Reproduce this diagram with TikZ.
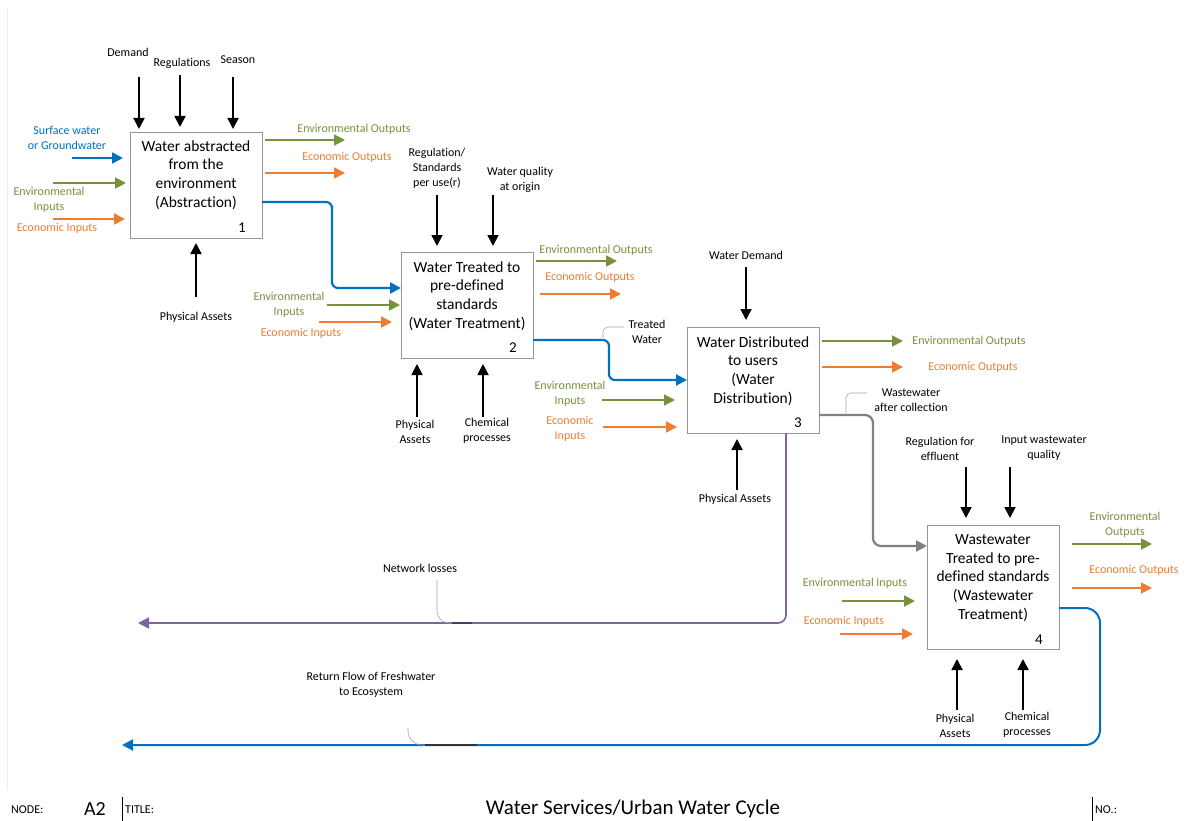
\documentclass[tikz,border=0pt]{standalone}
\usepackage{fontspec}
\setmainfont{Carlito}[Ligatures=NoCommon]
\usetikzlibrary{arrows.meta}
\definecolor{wblue}{RGB}{0,112,192}
\definecolor{wgreen}{RGB}{118,146,60}
\definecolor{worange}{RGB}{237,125,49}
\definecolor{wpurple}{RGB}{128,100,162}
\definecolor{wgray}{RGB}{128,128,128}
\definecolor{bxgray}{RGB}{150,150,150}
\begin{document}
\begin{tikzpicture}[x=1pt,y=-1pt,
 proc/.style={draw=bxgray, line width=1pt, fill=white, inner sep=0pt, anchor=north west, minimum width=132pt},
 ptext/.style={font=\fontsize{15.5}{18.7}\selectfont, align=center, inner sep=0pt},
 pnum/.style={font=\fontsize{15}{18}\selectfont, inner sep=0pt},
 lbl/.style={font=\fontsize{12}{15}\selectfont, align=center, inner sep=0pt},
 glbl/.style={lbl, text=wgreen},
 olbl/.style={lbl, text=worange},
 blbl/.style={lbl, text=wblue},
 arr/.style={-{Triangle[length=11pt,width=11pt]}, line width=1.8pt},
 ctrl/.style={arr, draw=black},
 garr/.style={arr, draw=wgreen},
 oarr/.style={arr, draw=worange},
 barr/.style={arr, draw=wblue},
 flow/.style={-{Triangle[length=11pt,width=11pt]}, line width=2.2pt, rounded corners=6pt},
 callout/.style={draw=gray!70, line width=0.6pt, rounded corners=5pt},
]
\useasboundingbox (0,0) rectangle (1201,821);
\fill[white] (0,0) rectangle (1201,821);
\draw[gray!15, line width=0.8pt] (7,8) -- (7,790);

% ---------- Box 1 ----------
\node[proc, minimum height=106pt] (b1) at (130,132) {};
\node[ptext] (b1t) at (196,175) {Water abstracted\\from the\\environment\\(Abstraction)};
\node[pnum] (b1n) at (242,228) {1};
\node[lbl] (l1a) at (128,52) {Demand};
\node[lbl] (l1b) at (182,63) {Regulations};
\node[lbl] (l1c) at (238,60) {Season};
\draw[ctrl] (139,77) coordinate (c1a) -- (139,129) coordinate (c1ae);
\draw[ctrl] (180,75) coordinate (c1b) -- (180,127) coordinate (c1be);
\draw[ctrl] (233,77) coordinate (c1c) -- (233,129) coordinate (c1ce);
\node[blbl] (l1d) at (67,138) {Surface water\\or Groundwater};
\draw[barr] (72,158) coordinate (i1a) -- (123,158) coordinate (i1ae);
\draw[garr] (53,183) coordinate (i1b) -- (126,183) coordinate (i1be);
\node[glbl] (l1e) at (49,199.5) {Environmental\\Inputs};
\draw[oarr] (53,219) coordinate (i1c) -- (125,219) coordinate (i1ce);
\node[olbl] (l1f) at (57,228) {Economic Inputs};
\node[glbl] (l1g) at (354,129) {Environmental Outputs};
\draw[garr] (265,140) coordinate (o1a) -- (345,140) coordinate (o1ae);
\node[olbl] (l1h) at (347,157) {Economic Outputs};
\draw[oarr] (265,173) coordinate (o1b) -- (345,173) coordinate (o1be);
\draw[ctrl] (196,297) coordinate (m1a) -- (196,243) coordinate (m1ae);
\node[lbl] (l1i) at (196,317) {Physical Assets};

% ---------- Box 2 ----------
\node[proc, minimum height=106pt] (b2) at (401,252) {};
\node[ptext] (b2t) at (467,296) {Water Treated to\\pre-defined\\standards\\(Water Treatment)};
\node[pnum] (b2n) at (513,348) {2};
\node[lbl] (l2a) at (437,168.5) {Regulation/\\Standards\\per use(r)};
\node[lbl] (l2b) at (520,179.5) {Water quality\\at origin};
\draw[ctrl] (437,195) coordinate (c2a) -- (437,246) coordinate (c2ae);
\draw[ctrl] (493,195) coordinate (c2b) -- (493,246) coordinate (c2be);
\node[glbl] (l2c) at (289,304.5) {Environmental\\Inputs};
\draw[garr] (327,305) coordinate (i2a) -- (400,305) coordinate (i2ae);
\node[olbl] (l2d) at (301,333) {Economic Inputs};
\draw[oarr] (319,322) coordinate (i2b) -- (392,322) coordinate (i2be);
\node[glbl] (l2e) at (596,250) {Environmental Outputs};
\draw[garr] (536,261) coordinate (o2a) -- (617,261) coordinate (o2ae);
\node[olbl] (l2f) at (590,277) {Economic Outputs};
\draw[oarr] (540,294) coordinate (o2b) -- (621,294) coordinate (o2be);
\draw[ctrl] (417,417) coordinate (m2a) -- (417,364) coordinate (m2ae);
\draw[ctrl] (483,417) coordinate (m2b) -- (483,364) coordinate (m2be);
\node[lbl] (l2g) at (415,431.5) {Physical\\Assets};
\node[lbl] (l2h) at (487,430.5) {Chemical\\processes};

% ---------- Box 3 ----------
\node[proc, minimum height=106pt] (b3) at (687,327) {};
\node[ptext] (b3t) at (753,371) {Water Distributed\\to users\\(Water\\Distribution)};
\node[pnum] (b3n) at (798,423) {3};
\node[lbl] (l3a) at (746,255) {Water Demand};
\draw[ctrl] (746,267) coordinate (c3a) -- (746,320) coordinate (c3ae);
\node[glbl] (l3b) at (570,393.5) {Environmental\\Inputs};
\draw[garr] (602,400) coordinate (i3a) -- (675,400) coordinate (i3ae);
\node[olbl] (l3c) at (570,429) {Economic\\Inputs};
\draw[oarr] (603,427) coordinate (i3b) -- (677,427) coordinate (i3be);
\draw[garr] (822,341) coordinate (o3a) -- (903,341) coordinate (o3ae);
\node[glbl] (l3d) at (969,341) {Environmental Outputs};
\draw[oarr] (822,367) coordinate (o3b) -- (903,367) coordinate (o3be);
\node[olbl] (l3e) at (973,367) {Economic Outputs};
\draw[ctrl] (737,490) coordinate (m3a) -- (737,439) coordinate (m3ae);
\node[lbl] (l3f) at (735,499) {Physical Assets};

% ---------- Box 4 ----------
\node[proc, minimum height=124pt] (b4) at (927,525) {};
\node[ptext] (b4t) at (993,578) {Wastewater\\Treated to pre-\\defined standards\\(Wastewater\\Treatment)};
\node[pnum] (b4n) at (1039,640) {4};
\node[lbl] (l4a) at (940,448.5) {Regulation for\\effluent};
\node[lbl] (l4b) at (1044,448.5) {Input wastewater\\quality};
\draw[ctrl] (966,467) coordinate (c4a) -- (966,518) coordinate (c4ae);
\draw[ctrl] (1010,467) coordinate (c4b) -- (1010,518) coordinate (c4be);
\node[glbl] (l4c) at (855,583) {Environmental Inputs};
\draw[garr] (842,601) coordinate (i4a) -- (915,601) coordinate (i4ae);
\node[olbl] (l4d) at (844,621) {Economic Inputs};
\draw[oarr] (840,634) coordinate (i4b) -- (913,634) coordinate (i4be);
\node[glbl] (l4e) at (1125,524.5) {Environmental\\Outputs};
\draw[garr] (1072,544) coordinate (o4a) -- (1152,544) coordinate (o4ae);
\node[olbl] (l4f) at (1134,570) {Economic Outputs};
\draw[oarr] (1072,588) coordinate (o4b) -- (1152,588) coordinate (o4be);
\draw[ctrl] (957,710) coordinate (m4a) -- (957,659) coordinate (m4ae);
\draw[ctrl] (1023,710) coordinate (m4b) -- (1023,659) coordinate (m4be);
\node[lbl] (l4g) at (955,725.5) {Physical\\Assets};
\node[lbl] (l4h) at (1027,724.5) {Chemical\\processes};

% ---------- Flows between boxes ----------
\coordinate (f1s) at (262,202);
\coordinate (f1e) at (401,288);
\draw[flow, draw=wblue] (f1s) -- (332,202) -- (332,288) -- (f1e);

\coordinate (f2s) at (533,340);
\coordinate (f2e) at (687,380);
\draw[flow, draw=wblue] (f2s) -- (609,340) -- (609,380) -- (f2e);
\draw[callout] (603,340) -- (603,327) -- (624,327);
\node[lbl] (l2w) at (647,331.5) {Treated\\Water};

\coordinate (f3s) at (819,415);
\coordinate (f3e) at (927,546);
\draw[flow, draw=wgray, rounded corners=8pt] (f3s) -- (873,415) -- (873,546) -- (f3e);
\draw[callout] (846,415) -- (846,393) -- (867,393);
\node[lbl] (l3w) at (911,400.5) {Wastewater\\after collection};

% network losses
\coordinate (f4s) at (786,433);
\coordinate (f4e) at (138,623);
\draw[flow, draw=wpurple, line width=1.6pt, rounded corners=8pt] (f4s) -- (786,623) -- (f4e);
\draw[callout, rounded corners=12pt] (437,580) -- (437,623) -- (452,623);
\draw[line width=1.6pt, wpurple!60!black] (452,623) -- (472,623);
\node[lbl] (l5a) at (420,568) {Network losses};

% return flow
\coordinate (f5s) at (1059,608);
\coordinate (f5e) at (122,745);
\draw[flow, draw=wblue, line width=2pt, rounded corners=15pt] (f5s) -- (1100,608) -- (1100,745) -- (f5e);
\draw[callout, rounded corners=14pt] (408,728) -- (408,745) -- (425,745);
\draw[line width=2pt, black!80] (425,745) -- (477,745);
\node[lbl] (l5b) at (371,685) {Return Flow of Freshwater\\to Ecosystem};

% ---------- Footer ----------
\node[lbl, anchor=west] (fnode) at (11,810) {NODE:};
\node[font=\fontsize{20}{24}\selectfont, inner sep=0pt] (fa2) at (95,809) {A2};
\draw[black, line width=0.8pt] (122,797) coordinate (fl1a) -- (122,821) coordinate (fl1b);
\node[lbl, anchor=west] (ftitle) at (125,810) {TITLE:};
\node[font=\fontsize{21}{25}\selectfont, inner sep=0pt] (ftxt) at (633,809) {Water Services/Urban Water Cycle};
\draw[black, line width=0.8pt] (1092,797) coordinate (fl2a) -- (1092,821) coordinate (fl2b);
\node[lbl, anchor=west] (fno) at (1095,810) {NO.:};
\end{tikzpicture}
\end{document}
